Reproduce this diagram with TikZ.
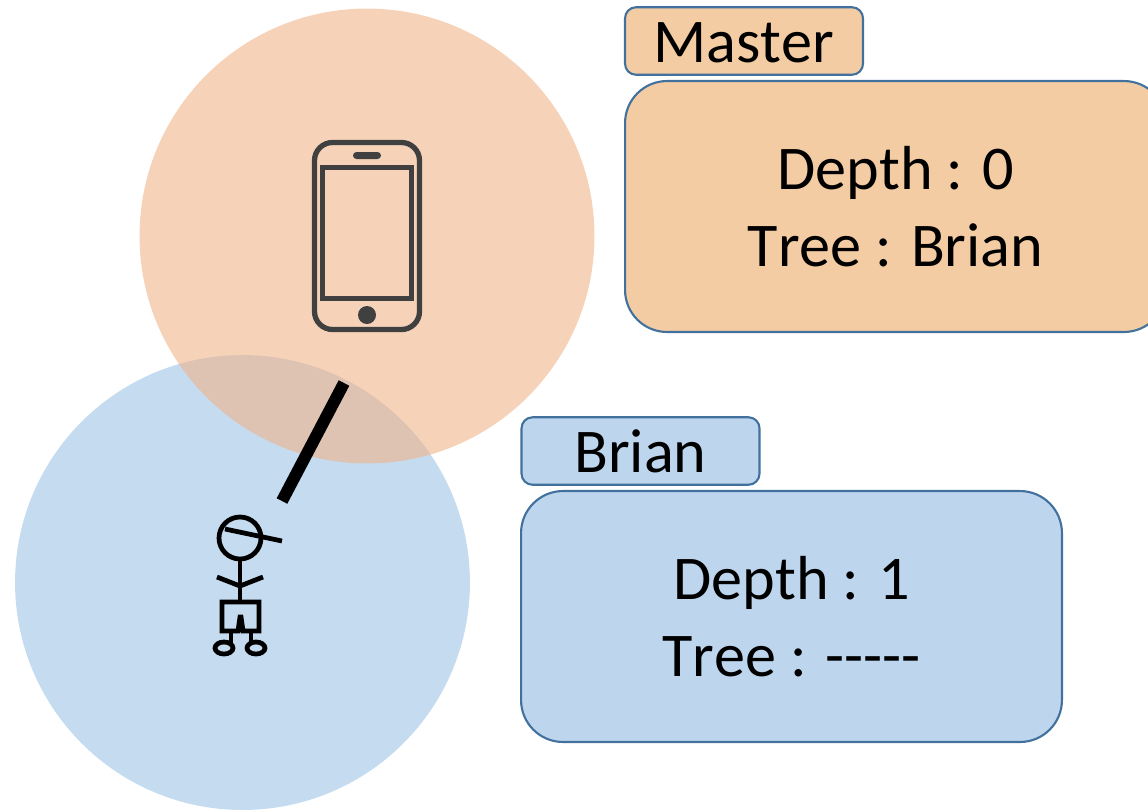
\documentclass[tikz,border=0pt]{standalone}
\usepackage{fontspec}
\setmainfont{Carlito}[Kerning=Off]
\definecolor{masterfill}{HTML}{F4CCA3}
\definecolor{brianfill}{HTML}{BDD6EE}
\definecolor{boxline}{HTML}{41719C}
\definecolor{rangeorange}{HTML}{F0B387}
\definecolor{rangeblue}{HTML}{C5DBF0}
\definecolor{phonegray}{HTML}{404040}
\tikzset{
  rangedisc/.style={circle,minimum size=9.1cm,inner sep=0pt},
  tagbox/.style={draw=boxline,line width=1.2pt,rounded corners=0.22cm,minimum width=4.76cm,minimum height=1.35cm,inner sep=0pt,text height=0.84cm,text depth=0cm,font=\fontsize{35.4}{43.6}\selectfont},
  bodybox/.style={draw=boxline,line width=1.2pt,rounded corners=0.84cm,minimum width=10.82cm,minimum height=5.02cm,inner sep=0pt,align=center,font=\fontsize{35.4}{43.6}\selectfont},
  phoneline/.style={draw=phonegray,line width=3pt},
  stickline/.style={draw=black,line width=2.7pt}
}
\begin{document}
\begin{tikzpicture}[x=0.02cm,y=-0.02cm]
\useasboundingbox (0,0) rectangle (1148,809);
\clip (0,0) rectangle (1148,809);
% range circles
\node[rangedisc,fill=rangeblue] (briandisc) at (242.5,582.5) {};
\node[rangedisc,fill=rangeorange,fill opacity=0.59] (masterdisc) at (367,236) {};
% phone
\draw[phoneline,rounded corners=0.36cm] (314.5,142.5) rectangle (419.5,329.5);
\draw[phoneline] (322.5,167.5) rectangle (411.5,298.5);
\fill[phonegray,rounded corners=0.07cm] (353,152) rectangle (381,159);
\fill[phonegray] (367,315) circle (0.18cm);
% stick figure
\draw[stickline] (240,538) circle (0.42cm);
\draw[stickline] (225,529) -- (282,541);
\draw[stickline] (240,559) -- (240,602);
\draw[stickline] (217,577) -- (240,586) -- (263,577);
\draw[stickline] (238,631) -- (222,631) -- (222,602) -- (259,602) -- (259,631) -- (243,631) -- (241,617) -- (240,617) -- cycle;
\draw[stickline] (231,631) -- (231,643);
\draw[stickline] (251,631) -- (251,643);
\draw[stickline] (224,648) ellipse (0.18cm and 0.12cm);
\draw[stickline] (256,648) ellipse (0.18cm and 0.12cm);
% link
\coordinate (linktop) at (344,383);
\coordinate (linkbottom) at (282,501);
\draw[line width=6.8pt] (linktop) -- (linkbottom);
% labels
\node[tagbox,fill=masterfill] (mastertag) at (744,41) {Master};
\node[bodybox,fill=masterfill] (masterbody) at (895.5,206.5) {Depth : 0\\Tree : Brian};
\node[tagbox,fill=brianfill] (briantag) at (640.5,451) {Brian};
\node[bodybox,fill=brianfill] (brianbody) at (791.5,616.5) {Depth : 1\\Tree : -{}-{}-{}-{}-};
\end{tikzpicture}
\end{document}
